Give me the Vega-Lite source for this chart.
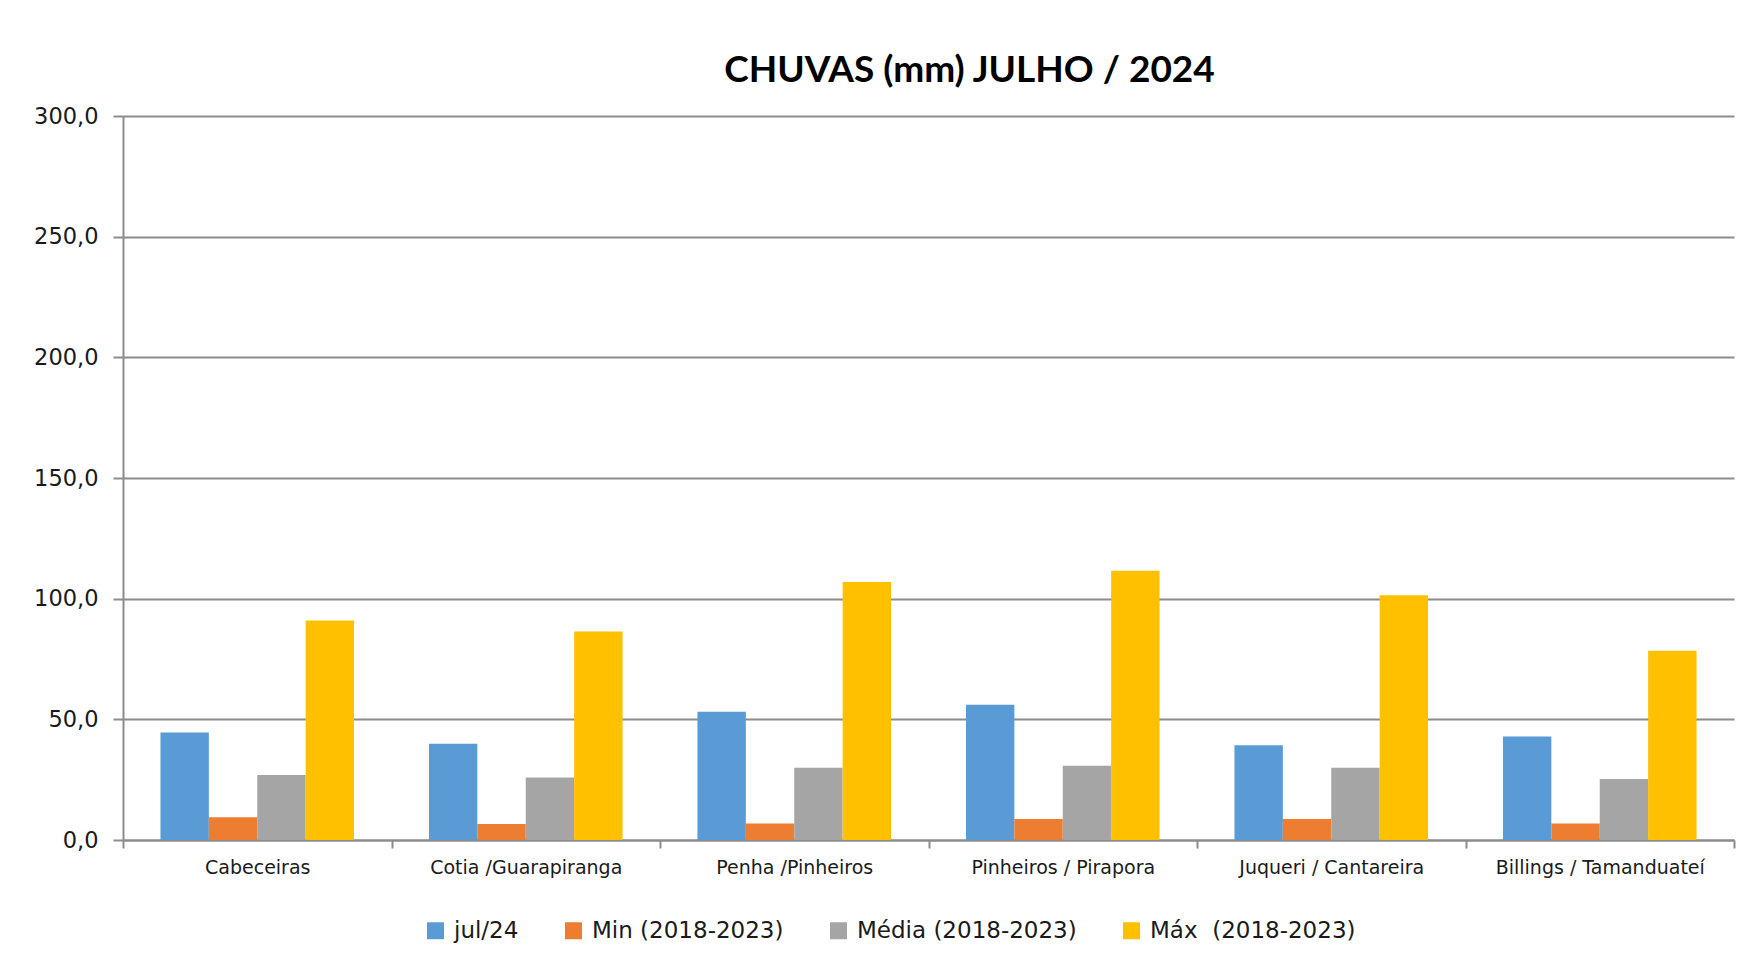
{
  "$schema": "https://vega.github.io/schema/vega-lite/v6.json",
  "autosize": {"type": "none"},
  "width": 1611,
  "height": 724,
  "padding": {"left": 123, "top": 116, "right": 24, "bottom": 130},
  "background": "#ffffff",
  "title": {
    "text": "CHUVAS (mm) JULHO / 2024",
    "font": "Lato",
    "fontWeight": "bold",
    "fontSize": 37,
    "color": "#000000",
    "anchor": "middle",
    "dx": 41,
    "dy": 28,
    "offset": 14,
    "baseline": "alphabetic"
  },
  "data": {
    "values": [
      {"regiao": "Cabeceiras", "serie": "jul/24", "valor": 44.5},
      {"regiao": "Cabeceiras", "serie": "Min (2018-2023)", "valor": 9.4},
      {"regiao": "Cabeceiras", "serie": "Média (2018-2023)", "valor": 26.9},
      {"regiao": "Cabeceiras", "serie": "Máx \u00a0(2018-2023)", "valor": 91.0},
      {"regiao": "Cotia /Guarapiranga", "serie": "jul/24", "valor": 39.9},
      {"regiao": "Cotia /Guarapiranga", "serie": "Min (2018-2023)", "valor": 6.6},
      {"regiao": "Cotia /Guarapiranga", "serie": "Média (2018-2023)", "valor": 25.9},
      {"regiao": "Cotia /Guarapiranga", "serie": "Máx \u00a0(2018-2023)", "valor": 86.4},
      {"regiao": "Penha /Pinheiros", "serie": "jul/24", "valor": 53.1},
      {"regiao": "Penha /Pinheiros", "serie": "Min (2018-2023)", "valor": 6.8},
      {"regiao": "Penha /Pinheiros", "serie": "Média (2018-2023)", "valor": 29.9},
      {"regiao": "Penha /Pinheiros", "serie": "Máx \u00a0(2018-2023)", "valor": 106.9},
      {"regiao": "Pinheiros / Pirapora", "serie": "jul/24", "valor": 56.0},
      {"regiao": "Pinheiros / Pirapora", "serie": "Min (2018-2023)", "valor": 8.7},
      {"regiao": "Pinheiros / Pirapora", "serie": "Média (2018-2023)", "valor": 30.8},
      {"regiao": "Pinheiros / Pirapora", "serie": "Máx \u00a0(2018-2023)", "valor": 111.6},
      {"regiao": "Juqueri / Cantareira", "serie": "jul/24", "valor": 39.3},
      {"regiao": "Juqueri / Cantareira", "serie": "Min (2018-2023)", "valor": 8.7},
      {"regiao": "Juqueri / Cantareira", "serie": "Média (2018-2023)", "valor": 29.9},
      {"regiao": "Juqueri / Cantareira", "serie": "Máx \u00a0(2018-2023)", "valor": 101.4},
      {"regiao": "Billings / Tamanduateí", "serie": "jul/24", "valor": 42.9},
      {"regiao": "Billings / Tamanduateí", "serie": "Min (2018-2023)", "valor": 6.8},
      {"regiao": "Billings / Tamanduateí", "serie": "Média (2018-2023)", "valor": 25.3},
      {"regiao": "Billings / Tamanduateí", "serie": "Máx \u00a0(2018-2023)", "valor": 78.4}
    ]
  },
  "mark": {"type": "bar"},
  "encoding": {
    "x": {
      "field": "regiao",
      "type": "nominal",
      "sort": null,
      "scale": {"paddingInner": 0, "paddingOuter": 0},
      "axis": {
        "title": null,
        "labelAngle": 0,
        "labelFont": "DejaVu Sans",
        "labelFontSize": 19,
        "labelColor": "#1a1a1a",
        "labelPadding": 10,
        "labelLimit": 400,
        "tickBand": "extent",
        "tickSize": 8,
        "tickColor": "#8c8c8c",
        "tickWidth": 2,
        "domainColor": "#8c8c8c",
        "domainWidth": 2,
        "grid": false
      }
    },
    "xOffset": {
      "field": "serie",
      "type": "nominal",
      "sort": ["jul/24", "Min (2018-2023)", "Média (2018-2023)", "Máx \u00a0(2018-2023)"],
      "scale": {"paddingInner": 0, "paddingOuter": 0.774}
    },
    "y": {
      "field": "valor",
      "type": "quantitative",
      "scale": {"domain": [0, 300], "nice": false},
      "axis": {
        "title": null,
        "values": [0, 50, 100, 150, 200, 250, 300],
        "labelExpr": "replace(format(datum.value, '.1f'), '.', ',')",
        "labelFont": "DejaVu Sans",
        "labelFontSize": 22.5,
        "labelColor": "#1a1a1a",
        "labelPadding": 15,
        "tickSize": 10,
        "tickColor": "#8c8c8c",
        "tickWidth": 2,
        "domainColor": "#8c8c8c",
        "domainWidth": 2,
        "grid": true,
        "gridColor": "#8c8c8c",
        "gridWidth": 2
      }
    },
    "color": {
      "field": "serie",
      "type": "nominal",
      "scale": {
        "domain": ["jul/24", "Min (2018-2023)", "Média (2018-2023)", "Máx \u00a0(2018-2023)"],
        "range": ["#5b9bd5", "#ed7d31", "#a5a5a5", "#ffc000"]
      },
      "legend": {
        "title": null,
        "orient": "none",
        "legendX": 301,
        "legendY": 803,
        "direction": "horizontal",
        "columns": 4,
        "padding": 0,
        "symbolType": "square",
        "symbolSize": 289,
        "symbolStrokeWidth": 0,
        "symbolOpacity": 1,
        "labelFont": "DejaVu Sans",
        "labelFontSize": 23,
        "labelColor": "#1a1a1a",
        "labelOffset": 7,
        "columnPadding": 43,
        "labelLimit": 400
      }
    }
  },
  "config": {
    "view": {"stroke": null},
    "bar": {"stroke": null}
  }
}
